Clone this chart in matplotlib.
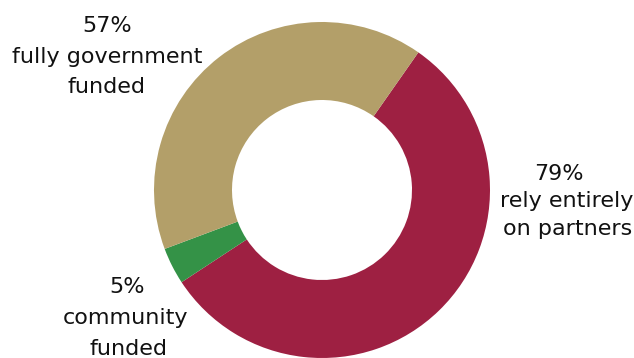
import numpy as np
from matplotlib import pyplot as plt

# funding share of programmes (%)
values = [79, 5, 57]
names = ['rely entirely\non partners', 'community\nfunded', 'fully government\nfunded']
colors = ['#9E2042', '#349247', '#B39F69']

W, H = 634, 358

# text placement in pixels from the top-left: one (x, baseline) per line
label_lines = [
    [(559, 180), (567, 207), (568, 235)],
    [(127, 293), (126, 324), (129, 355)],
    [(107, 32), (107, 63), (107, 93)],
]

fig = plt.figure(figsize=(W / 100, H / 100), dpi=100)
ax = fig.add_axes([0, 0, 1, 1])
ax.set_xlim(0, W)
ax.set_ylim(0, H)
ax.set_aspect('equal')
ax.axis('off')

ax.pie(values, colors=colors, center=(322, H - 190), radius=168,
       startangle=55, counterclock=False,
       wedgeprops=dict(width=78, linewidth=0))

for value, name, pos in zip(values, names, label_lines):
    lines = [f'{value}%'] + name.split('\n')
    for text, (x, y) in zip(lines, pos):
        ax.text(x, H - y, text, ha='center', va='baseline',
                fontsize=16, family='DejaVu Sans', color='#111111')

ax.set_xlim(0, W)
ax.set_ylim(0, H)
fig.savefig('out.png', dpi=100)
